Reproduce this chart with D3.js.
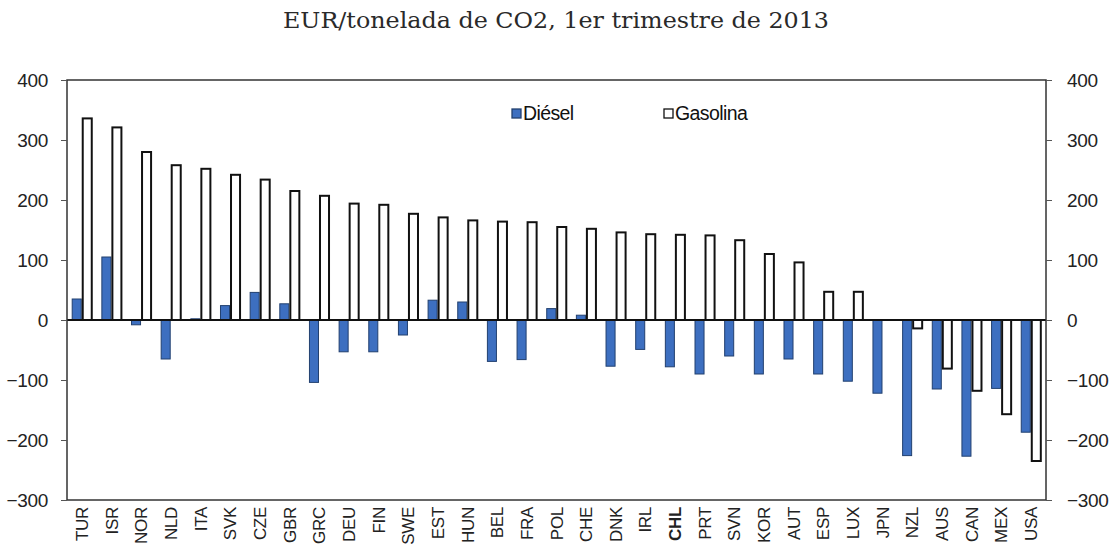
<!DOCTYPE html>
<html><head><meta charset="utf-8">
<script src="https://cdn.jsdelivr.net/npm/d3@7"></script>
<style>body{margin:0;background:#fff;} svg{display:block;}</style>
</head><body>
<svg id="chart" width="1110" height="558"></svg>
<script>
const categories = ["TUR","ISR","NOR","NLD","ITA","SVK","CZE","GBR","GRC","DEU","FIN","SWE","EST","HUN","BEL","FRA","POL","CHE","DNK","IRL","CHL","PRT","SVN","KOR","AUT","ESP","LUX","JPN","NZL","AUS","CAN","MEX","USA"];
const diesel   = [35,105,-8,-65,2,24,46,27,-104,-53,-53,-25,33,30,-69,-66,19,8,-77,-49,-78,-90,-60,-90,-65,-90,-102,-122,-226,-115,-227,-114,-187];
const gasolina = [336,321,280,258,252,242,234,215,207,194,192,177,171,166,164,163,155,152,146,143,142,141,133,110,96,47,47,0,-14,-81,-118,-157,-235];
const yTicks = [400,300,200,100,0,-100,-200,-300];
const seriesNames = ["Diésel","Gasolina"];
const titleText = "EUR/tonelada de CO2, 1er trimestre de 2013";

const svg = d3.select("#chart");
const m = {left:67, right:1046, top:80, bottom:500};
const x = d3.scaleBand().domain(categories).range([m.left, m.right]).paddingInner(0.29).paddingOuter(0.15);
const xs = d3.scaleBand().domain(seriesNames).range([0, x.bandwidth()]).padding(0);
const y = d3.scaleLinear().domain([-300,400]).range([m.bottom, m.top]);

const sansFont = "'Liberation Sans', Arial, sans-serif";

// title
svg.append("text").attr("x",556).attr("y",28).attr("text-anchor","middle")
  .attr("font-family","'DejaVu Serif', 'Liberation Serif', serif").attr("font-size",23)
  .attr("textLength",546).attr("lengthAdjust","spacingAndGlyphs")
  .attr("fill","#2a2a2a").text(titleText);

const colors = {"Diésel":"#3d6fc0","Gasolina":"#ffffff"};
const strokes = {"Diésel":"#22406f","Gasolina":"#111"};

const data = categories.map((c,i)=>({c, vals:[{s:"Diésel",v:diesel[i]},{s:"Gasolina",v:gasolina[i]}]}));

const g = svg.append("g");
g.selectAll("g.cat").data(data).join("g").attr("class","cat")
  .attr("transform",d=>`translate(${x(d.c)},0)`)
  .selectAll("rect").data(d=>d.vals).join("rect")
  .attr("x",d=>xs(d.s)+0.75).attr("width",xs.bandwidth()-1.5)
  .attr("y",d=>y(Math.max(0,d.v))).attr("height",d=>Math.abs(y(d.v)-y(0)))
  .attr("fill",d=>colors[d.s]).attr("stroke",d=>strokes[d.s])
  .attr("stroke-width",d=>d.s==="Gasolina"?2:1);

// zero line
svg.append("line").attr("x1",m.left).attr("x2",m.right).attr("y1",y(0)).attr("y2",y(0))
  .attr("stroke","#111").attr("stroke-width",1.8);

// frame
svg.append("rect").attr("x",m.left).attr("y",m.top).attr("width",m.right-m.left).attr("height",m.bottom-m.top)
  .attr("fill","none").attr("stroke","#333").attr("stroke-width",1.5);

// axes
const yl = svg.append("g").attr("transform",`translate(${m.left},0)`)
  .call(d3.axisLeft(y).tickValues(yTicks).tickSize(6).tickPadding(13).tickFormat(d3.format("d")));
const yr = svg.append("g").attr("transform",`translate(${m.right},0)`)
  .call(d3.axisRight(y).tickValues(yTicks).tickSize(6).tickPadding(15).tickFormat(d3.format("d")));
[yl,yr].forEach(a=>{
  a.select(".domain").remove();
  a.selectAll(".tick line").attr("stroke","#555");
  a.selectAll("text").attr("font-family",sansFont).attr("font-size",19).attr("fill","#222").attr("letter-spacing","-0.3px");
});

const xa = svg.append("g").attr("transform",`translate(0,${m.bottom})`)
  .call(d3.axisBottom(x).tickSize(0).tickPadding(0));
xa.select(".domain").remove();
xa.selectAll("text").attr("font-family",sansFont).attr("font-size",17).attr("fill","#222")
  .attr("letter-spacing","-0.3px")
  .attr("text-anchor","end").attr("dy",null)
  .attr("transform","translate(6,7) rotate(-90)")
  .attr("font-weight",d=>d==="CHL"?"bold":"normal");

// legend
const leg = svg.append("g").attr("font-family",sansFont).attr("font-size",19.5).attr("fill","#111");
const legX = [512, 664];
seriesNames.forEach((s,i)=>{
  leg.append("rect").attr("x",legX[i]).attr("y",109).attr("width",9).attr("height",9)
    .attr("fill",colors[s]).attr("stroke",s==="Gasolina"?"#111":strokes[s]).attr("stroke-width",1.3);
  leg.append("text").attr("x",legX[i]+11).attr("y",120).attr("letter-spacing","-0.6px").text(s);
});
</script>
</body></html>
